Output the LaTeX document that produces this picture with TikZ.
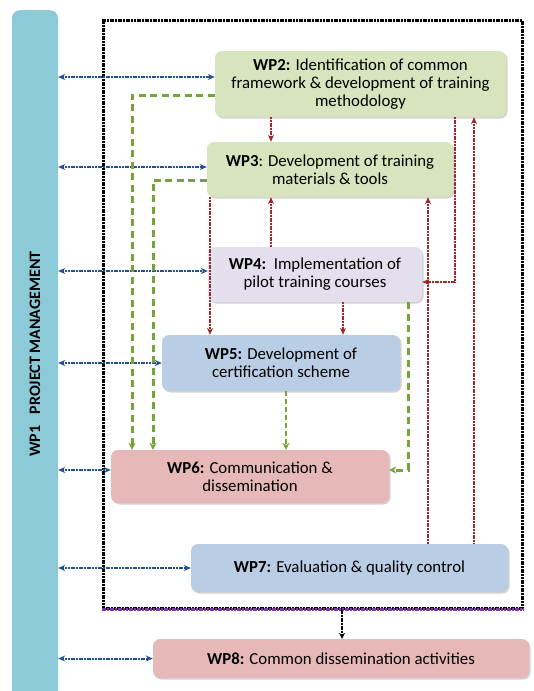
\documentclass[tikz,border=0pt]{standalone}
\usepackage{fontspec}
\setmainfont{Carlito}
\usepackage{xcolor}
\usetikzlibrary{calc, positioning, arrows.meta, shadows}

\definecolor{barblue}{HTML}{8DCAD8}
\definecolor{wpgreen}{HTML}{D7E4BD}
\definecolor{wplilac}{HTML}{E4DFEC}
\definecolor{wpblue}{HTML}{B9CDE5}
\definecolor{wppink}{HTML}{E6B9B8}
\definecolor{linkblue}{HTML}{23508E}
\definecolor{depred}{HTML}{9B2A2A}
\definecolor{depgreen}{HTML}{77A33A}
\definecolor{framepurple}{HTML}{7A3AA8}

\tikzset{
  wpbox/.style={rectangle, rounded corners=7pt, align=center, inner sep=2pt,
    font=\fontsize{16.8}{17.8}\selectfont,
    drop shadow={opacity=0.35, shadow xshift=1.5pt, shadow yshift=-1.5pt}},
  pmlink/.style={draw=linkblue, line width=2pt, dash pattern=on 2pt off 0.7pt,
    {Stealth[length=7pt,width=6pt]}-{Stealth[length=7pt,width=6pt]}},
  reddep/.style={draw=depred, line width=1.8pt, dash pattern=on 2pt off 0.7pt,
    -{Stealth[length=7pt,width=6pt]}},
  greendep/.style={draw=depgreen, line width=3pt, dash pattern=on 7pt off 4.5pt,
    -{Stealth[length=7pt,width=7pt]}},
}

\begin{document}
\begin{tikzpicture}
              [x=1pt, y=-1pt]
              \useasboundingbox (0,0) rectangle (533,691);

              % WP1 bar %
              \node[rectangle, rounded corners=8pt, fill=barblue, minimum width=46pt,
                minimum height=700pt, anchor=north] (wp1) at (35,10) {};
              \node[rotate=90, font=\fontsize{16}{18}\selectfont\bfseries] (wp1text) at (35,354)
                {WP1\hspace{0.7em}PROJECT MANAGEMENT};

              % frame round WP2--WP7 %
              \node[draw, line width=3pt, dash pattern=on 2pt off 0.7pt, minimum width=419pt,
                minimum height=588pt] (frame) at (312.5,314) {};
              \draw[framepurple, line width=3pt, dash pattern=on 2pt off 0.7pt]
                (frame.south west) -- (frame.south east);

              % work packages %
              \node[wpbox, fill=wpgreen, minimum width=291pt, minimum height=66pt] (wp2) at (360.5,84)
                {\textbf{WP2:} Identification of common\\framework \& development of training\\methodology};
              \node[wpbox, fill=wpgreen, minimum width=246pt, minimum height=55pt] (wp3) at (330,169.5)
                {\textbf{WP3}: Development of training\\materials \& tools};
              \node[wpbox, fill=wplilac, minimum width=214pt, minimum height=55pt] (wp4) at (315,274.5)
                {\textbf{WP4:}\ \ Implementation of\\pilot training courses};
              \node[wpbox, fill=wpblue, minimum width=238pt, minimum height=56pt] (wp5) at (281,363)
                {\textbf{WP5:} Development of\\certification scheme};
              \node[wpbox, fill=wppink, minimum width=278pt, minimum height=53pt] (wp6) at (250,476.5)
                {\textbf{WP6:} Communication \&\\dissemination};
              \node[wpbox, fill=wpblue, minimum width=317pt, minimum height=48pt] (wp7) at (349.5,568)
                {\textbf{WP7:} Evaluation \& quality control};
              \node[wpbox, fill=wppink, minimum width=376pt, minimum height=39pt] (wp8) at (341,658.5)
                {\textbf{WP8:} Common dissemination activities};

              % columns and ends of the links %
              \coordinate (c23) at (271,0);
              \coordinate (c35) at (210,0);
              \coordinate (c45) at (343,0);
              \coordinate (c37) at (428,0);
              \coordinate (c24) at (455,0);
              \coordinate (c27) at (474,0);
              \coordinate (g26) at (132,0);
              \coordinate (g36) at (153,0);
              \coordinate (g46) at (408,0);
              \coordinate (g56) at (286,0);
              \coordinate (c8) at (342,0);
              \coordinate (b2) at ([yshift=7pt]wp2.west);
              \coordinate (b3) at ([yshift=2.5pt]wp3.west);
              \coordinate (b4) at ([yshift=3.5pt]wp4.west);
              \coordinate (b6) at ([yshift=6.5pt]wp6.west);

              % links to WP1 %
              \draw[pmlink] (wp1.east |- b2) -- (b2);
              \draw[pmlink] (wp1.east |- b3) -- (b3);
              \draw[pmlink] (wp1.east |- b4) -- (b4);
              \draw[pmlink] (wp1.east |- wp5.west) -- (wp5.west);
              \draw[pmlink] (wp1.east |- b6) -- (b6);
              \draw[pmlink] (wp1.east |- wp7.west) -- (wp7.west);
              \draw[pmlink] (wp1.east |- wp8.west) -- (wp8.west);

              % green links %
              \draw[greendep] ([yshift=-11pt]wp2.west) -| (wp6.north -| g26);
              \draw[greendep] ([yshift=-10.5pt]wp3.west) -| (wp6.north -| g36);
              \draw[greendep, line width=1.8pt, dash pattern=on 5pt off 3pt] (wp5.south -| g56) -- (wp6.north -| g56);
              \draw[greendep] (wp4.south -| g46) |- ([yshift=6.5pt]wp6.east);

              % red links %
              \draw[reddep] (wp2.south -| c23) -- (wp3.north -| c23);
              \draw[reddep, {Stealth[length=7pt,width=6pt]}-] (wp3.south -| c23) -- (wp4.north -| c23);
              \draw[reddep] (wp3.south -| c35) -- (wp5.north -| c35);
              \draw[reddep, line width=1.2pt] (wp4.south -| c45) -- (wp5.north -| c45);
              \draw[reddep, {Stealth[length=7pt,width=6pt]}-] ([yshift=-7.5pt]wp4.east) -| (wp2.south -| c24);
              \draw[reddep, {Stealth[length=7pt,width=6pt]}-] (wp3.south -| c37) -- (wp7.north -| c37);
              \draw[reddep, {Stealth[length=7pt,width=6pt]}-] (wp2.south -| c27) -- (wp7.north -| c27);

              % frame to WP8 %
              \draw[draw=black, line width=2pt, dash pattern=on 2pt off 0.7pt, -{Stealth[length=6pt,width=6pt]}]
                (frame.south -| c8) -- (wp8.north -| c8);
            \end{tikzpicture}
\end{document}
